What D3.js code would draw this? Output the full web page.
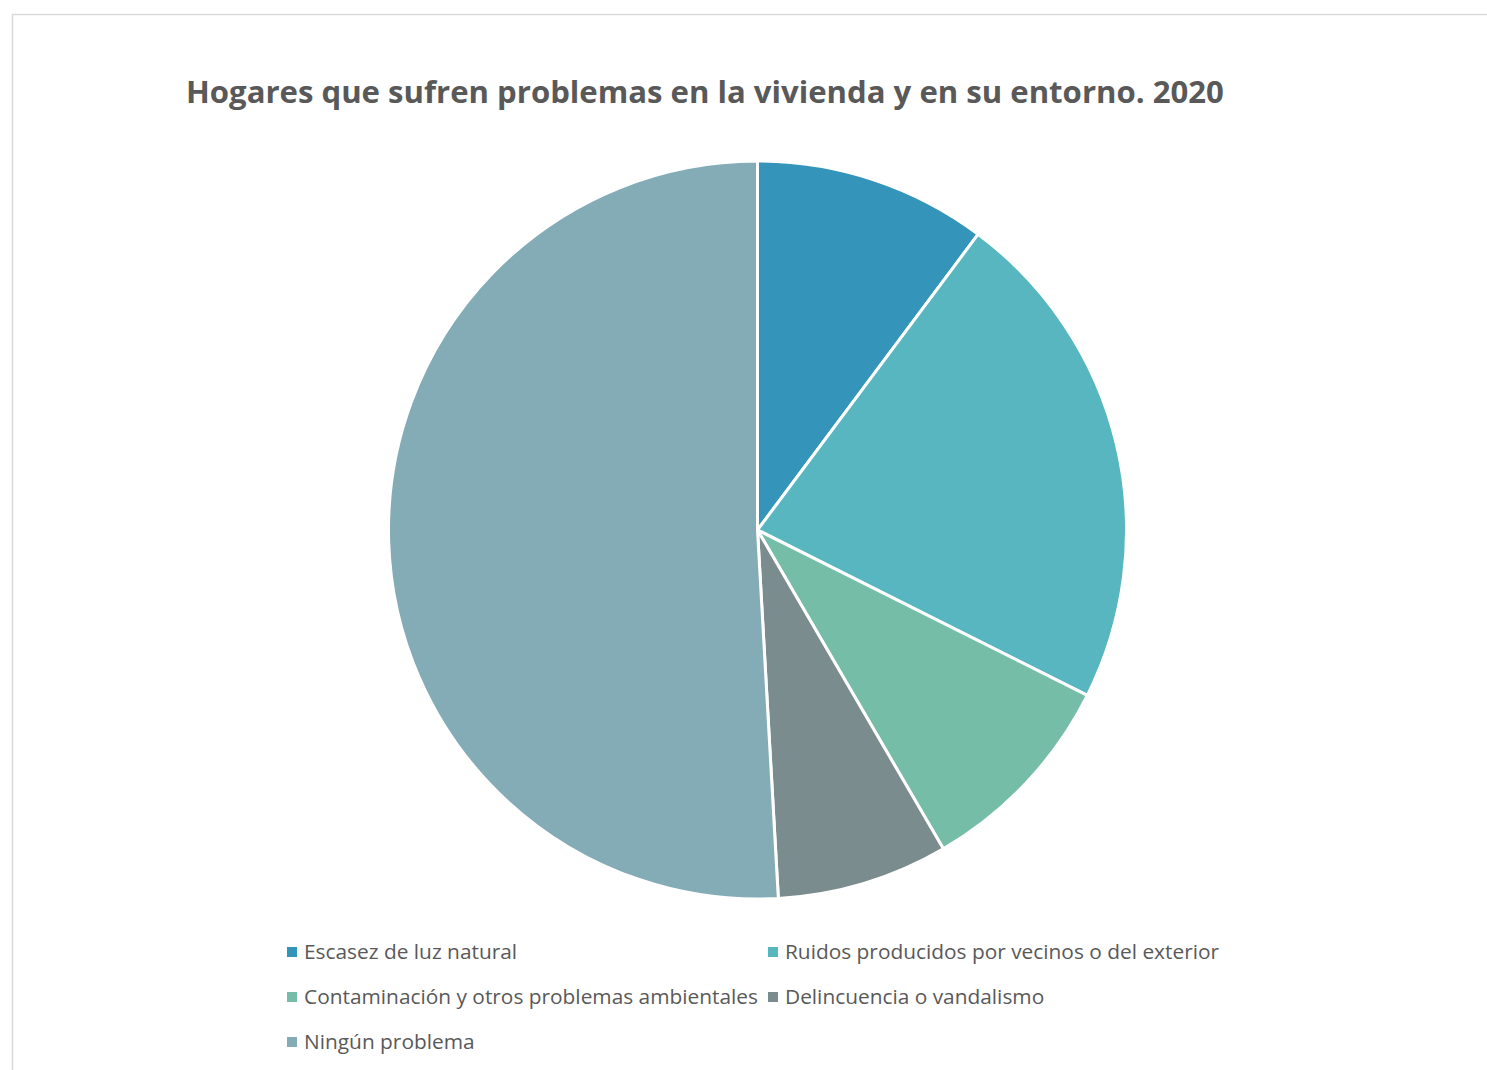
<!DOCTYPE html>
<html>
<head>
<meta charset="utf-8">
<script src="https://cdn.jsdelivr.net/npm/d3@7"></script>
<style>
  body { margin: 0; background: #fff; }
  svg { display: block; font-family: "Open Sans", "DejaVu Sans", sans-serif; }
</style>
</head>
<body>
<div id="chart"></div>
<script>
// data (shares of households, %)
const categories = [
  "Escasez de luz natural",
  "Ruidos producidos por vecinos o del exterior",
  "Contaminación y otros problemas ambientales",
  "Delincuencia o vandalismo",
  "Ningún problema"
];
const values = [10.2, 22.2, 9.2, 7.5, 50.9];
const colors = ["#3494BA", "#58B6C0", "#75BDA7", "#7A8C8E", "#84ACB6"];
const title = "Hogares que sufren problemas en la vivienda y en su entorno. 2020";

const W = 1487, H = 1070;
const svg = d3.select("#chart").append("svg")
    .attr("width", W)
    .attr("height", H);

// chart frame (runs off the right and bottom edges)
svg.append("rect")
    .attr("x", 12.5).attr("y", 14.5)
    .attr("width", W + 20).attr("height", H + 20)
    .attr("fill", "#fff")
    .attr("stroke", "#d9d9d9")
    .attr("stroke-width", 1.5);

// title, sized so it spans the same width as the original
let t = svg.append("text")
    .attr("x", 186)
    .attr("y", 103)
    .style("font-weight", "bold")
    .style("font-size", "32px")
    .attr("fill", "#595959")
    .text(title);
let tw = t.node().getComputedTextLength();
t.style("font-size", (32 * 1038 / tw).toFixed(2) + "px");

/*
 * Pie
 */
const cx = 757.5, cy = 530, r = 369;
const pie = d3.pie().sort(null).value(d => d.value);
const arc = d3.arc().innerRadius(0).outerRadius(r);
const slices = categories.map((c, i) => ({name: c, value: values[i], color: colors[i]}));

svg.append("g")
    .attr("transform", "translate(" + cx + "," + cy + ")")
  .selectAll("path")
  .data(pie(slices))
  .enter()
  .append("path")
    .attr("d", arc)
    .attr("fill", d => d.data.color)
    .attr("stroke", "#fff")
    .attr("stroke-width", 3)
    .attr("stroke-linejoin", "round");

/*
 * Legend - two columns, three rows
 */
const colX = [287, 768];
const rowY = [952, 997, 1042];
const leg = svg.append("g");
const items = leg.selectAll("g")
  .data(slices)
  .enter()
  .append("g")
    .attr("transform", (d, i) => "translate(" + colX[i % 2] + "," + rowY[Math.floor(i / 2)] + ")");

items.append("rect")
    .attr("x", 0).attr("y", -5)
    .attr("width", 10).attr("height", 10)
    .attr("fill", d => d.color);

const labels = items.append("text")
    .attr("x", 17)
    .attr("dy", "0.35em")
    .style("font-size", "20px")
    .attr("fill", "#595959")
    .text(d => d.name);

// match the longest label width (~454px) of the original
let lw = labels.filter((d, i) => i === 2).node().getComputedTextLength();
labels.style("font-size", (20 * 454 / lw).toFixed(2) + "px");
</script>
</body>
</html>
